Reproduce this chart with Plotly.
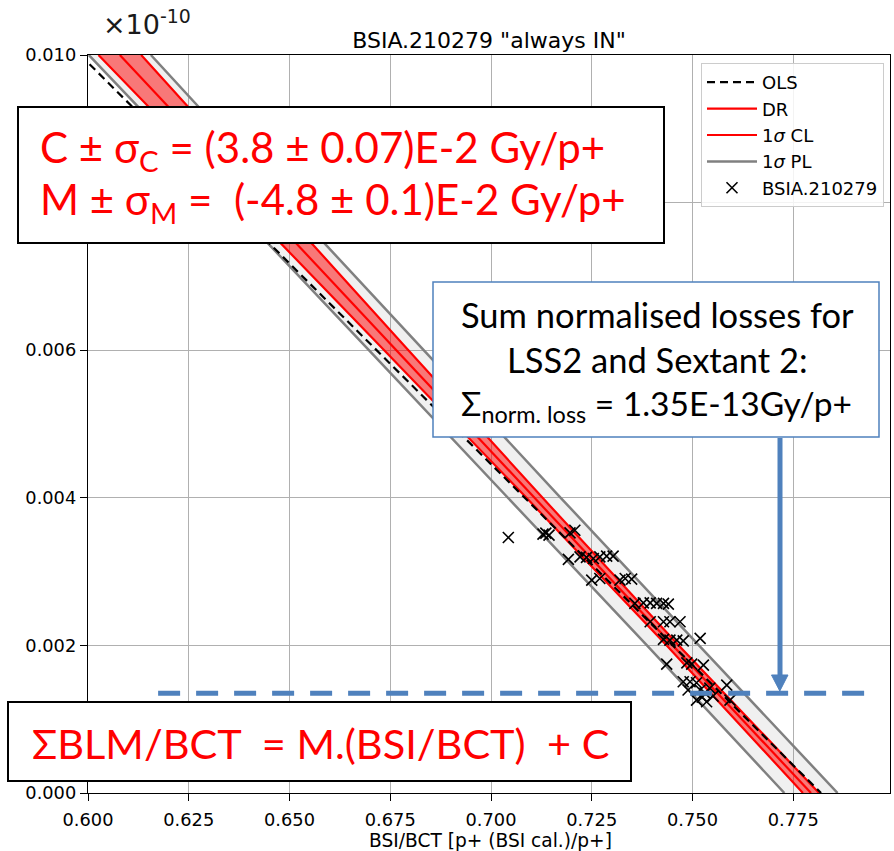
import plotly.graph_objects as go

# ---------------- data ----------------
BAND_Y = [0.010, 0.008, 0.006, 0.004, 0.002, 0.000]
DR_X = [0.6079, 0.6422, 0.6765, 0.7108, 0.7451, 0.7794]
CL_LOWER_X = [0.6026, 0.6381, 0.6735, 0.7088, 0.7436, 0.7774]
CL_UPPER_X = [0.6132, 0.6463, 0.6795, 0.7128, 0.7466, 0.7814]
PL_LOWER_X = [0.6002, 0.6351, 0.6697, 0.7043, 0.7387, 0.7728]
PL_UPPER_X = [0.6156, 0.6493, 0.6833, 0.7173, 0.7516, 0.7860]

OLS_X = [0.5981, 0.7819]
OLS_Y = [0.010, 0.000]

PTS_X = [0.7043, 0.7129, 0.7136, 0.7144, 0.7196, 0.7208, 0.7192, 0.7221, 0.7237,
         0.7254, 0.7270, 0.7287, 0.7303, 0.7250, 0.7270, 0.7320, 0.7333, 0.7349,
         0.7357, 0.7378, 0.7395, 0.7411, 0.7428, 0.7440, 0.7395, 0.7428, 0.7444,
         0.7469, 0.7428, 0.7444, 0.7461, 0.7477, 0.7519, 0.7436, 0.7486, 0.7498,
         0.7527, 0.7477, 0.7494, 0.7510, 0.7519, 0.7531, 0.7543, 0.7551, 0.7585,
         0.7510, 0.7535, 0.7593, 0.7489, 0.7524]
PTS_Y = [0.003462, 0.003507, 0.003521, 0.003494, 0.003525, 0.003561, 0.003165,
         0.003200, 0.003192, 0.003178, 0.003200, 0.003209, 0.003209, 0.002884,
         0.002907, 0.002884, 0.002907, 0.002898, 0.002569, 0.002577, 0.002577,
         0.002569, 0.002569, 0.002559, 0.002320, 0.002320, 0.002320, 0.002320,
         0.002081, 0.002072, 0.002072, 0.002062, 0.002095, 0.001747, 0.001764,
         0.001747, 0.001733, 0.001507, 0.001507, 0.001494, 0.001395, 0.001354,
         0.001422, 0.001313, 0.001462, 0.001259, 0.001236, 0.001259, 0.001395,
         0.001300]

NORM_LOSS = 0.00135          # 1.35E-13 Gy/p+ in units of 1e-10
NORM_LOSS_X = [0.6174, 0.7958]

X_TICKS = [0.600, 0.625, 0.650, 0.675, 0.700, 0.725, 0.750, 0.775]
X_TICK_TEXT = ["0.600", "0.625", "0.650", "0.675", "0.700", "0.725", "0.750", "0.775"]
Y_TICKS = [0.000, 0.002, 0.004, 0.006, 0.008, 0.010]
Y_TICK_TEXT = ["0.000", "0.002", "0.004", "0.006", "", "0.010"]  # 0.008 hidden under box

TITLE = 'BSIA.210279 "always IN"'
X_TITLE = "BSI/BCT [p+ (BSI cal.)/p+]"

# ---------------- figure ----------------
W, H = 894, 851
ML, MR, MT, MB = 88, 4, 55, 58
PW, PH = W - ML - MR, H - MT - MB


def px(xp):
    return (xp - ML) / PW


def py(yp):
    return (H - MB - yp) / PH


RED = "#ff0000"
GREY = "#808080"
BLUE = "#4f81bd"
F_MPL = "DejaVu Sans"
F_PPT = "Lato"

fig = go.Figure()

# prediction band
fig.add_trace(go.Scatter(x=PL_LOWER_X, y=BAND_Y, mode="lines",
                         line=dict(color=GREY, width=2.5),
                         name="1<i>σ</i> PL", legendgroup="pl", legendrank=4,
                         showlegend=True))
fig.add_trace(go.Scatter(x=PL_UPPER_X, y=BAND_Y, mode="lines", fill="tonextx",
                         fillcolor="rgba(128,128,128,0.12)",
                         line=dict(color=GREY, width=2.5),
                         name="1<i>σ</i> PL", legendgroup="pl", showlegend=False))
# confidence band
fig.add_trace(go.Scatter(x=CL_LOWER_X, y=BAND_Y, mode="lines",
                         line=dict(color=RED, width=2.2),
                         name="1<i>σ</i> CL", legendgroup="cl", legendrank=3,
                         showlegend=True))
fig.add_trace(go.Scatter(x=CL_UPPER_X, y=BAND_Y, mode="lines", fill="tonextx",
                         fillcolor="rgba(255,0,0,0.5)",
                         line=dict(color=RED, width=2.2),
                         name="1<i>σ</i> CL", legendgroup="cl", showlegend=False))
# DR fit
fig.add_trace(go.Scatter(x=DR_X, y=BAND_Y, mode="lines",
                         line=dict(color=RED, width=2.2),
                         name="DR", legendgroup="dr", legendrank=2))
# OLS fit
fig.add_trace(go.Scatter(x=OLS_X, y=OLS_Y, mode="lines",
                         line=dict(color="black", width=2.2, dash="8px,5px"),
                         name="OLS", legendgroup="ols", legendrank=1))
# data points
fig.add_trace(go.Scatter(x=PTS_X, y=PTS_Y, mode="markers",
                         marker=dict(symbol="x-thin", size=11,
                                     line=dict(color="black", width=1.6)),
                         name="BSIA.210279", legendgroup="pts", legendrank=5))

axis_common = dict(showline=True, mirror=True, linecolor="black", linewidth=1.4,
                   showgrid=True, gridcolor="#b0b0b0", gridwidth=1.2,
                   zeroline=False, ticks="outside", ticklen=7, tickwidth=1.4,
                   tickcolor="black",
                   tickfont=dict(family=F_MPL, size=17.8, color="black"))

fig.update_xaxes(range=[0.6, 0.6 + PW / 4030.0], tickvals=X_TICKS, ticktext=X_TICK_TEXT,
                 ticklabelstandoff=3, **axis_common)
fig.update_yaxes(range=[0.0, 0.010], tickvals=Y_TICKS, ticktext=Y_TICK_TEXT,
                 **axis_common)

shapes = []
# horizontal normalised-loss line
shapes.append(dict(type="line", xref="x", yref="y", x0=NORM_LOSS_X[0],
                   x1=NORM_LOSS_X[1], y0=NORM_LOSS, y1=NORM_LOSS, layer="above",
                   line=dict(color=BLUE, width=5, dash="22px,16px")))
# red-text boxes
shapes.append(dict(type="rect", xref="paper", yref="paper", x0=px(18), x1=px(664),
                   y0=py(243), y1=py(107), layer="above", fillcolor="white",
                   line=dict(color="black", width=2)))
shapes.append(dict(type="rect", xref="paper", yref="paper", x0=px(8), x1=px(631),
                   y0=py(781), y1=py(702), layer="above", fillcolor="white",
                   line=dict(color="black", width=2)))
# blue box
shapes.append(dict(type="rect", xref="paper", yref="paper", x0=px(433), x1=px(879),
                   y0=py(437), y1=py(282), layer="above", fillcolor="white",
                   line=dict(color=BLUE, width=1.5)))
# arrow
shapes.append(dict(type="line", xref="paper", yref="paper", x0=px(780), x1=px(780),
                   y0=py(438), y1=py(676), layer="above",
                   line=dict(color=BLUE, width=5)))
shapes.append(dict(type="path", xref="paper", yref="paper", layer="above",
                   path="M %f %f L %f %f L %f %f Z" % (px(771.5), py(675), px(788), py(675),
                                                       px(779.8), py(691)),
                   fillcolor=BLUE, line=dict(color=BLUE, width=1)))

NB = "\u00a0"
annotations = [
    dict(text=X_TITLE, x=px(490), y=py(840), xanchor="center", yanchor="middle",
         font=dict(family=F_MPL, size=18.6, color="black")),
    dict(text="×10<sup>-10</sup>", x=px(101), y=py(23), xanchor="left", yanchor="middle",
         font=dict(family=F_MPL, size=27, color="#1a1a1a")),
    dict(text="C ± σ<sub>C</sub> = (3.8 ± 0.07)E-2 Gy/p+", x=px(38), y=py(150),
         xanchor="left", yanchor="middle", font=dict(family=F_PPT, size=42, color=RED)),
    dict(text="M ± σ<sub>M</sub> =" + NB + NB + "(-4.8 ± 0.1)E-2 Gy/p+", x=px(38), y=py(202),
         xanchor="left", yanchor="middle", font=dict(family=F_PPT, size=42, color=RED)),
    dict(text="ΣBLM/BCT" + NB + NB + "= M.(BSI/BCT)" + NB + NB + "+ C", x=px(30), y=py(743),
         xanchor="left", yanchor="middle", font=dict(family=F_PPT, size=41.5, color=RED)),
    dict(text="Sum normalised losses for", x=px(657), y=py(314), xanchor="center",
         yanchor="middle", font=dict(family=F_PPT, size=34.5, color="black")),
    dict(text="LSS2 and Sextant 2:", x=px(657), y=py(359), xanchor="center",
         yanchor="middle", font=dict(family=F_PPT, size=34.5, color="black")),
    dict(text="Σ<sub>norm. loss</sub> = 1.35E-13Gy/p+", x=px(656), y=py(405),
         xanchor="center", yanchor="middle", font=dict(family=F_PPT, size=33.5, color="black")),
]
for a in annotations:
    a.update(xref="paper", yref="paper", showarrow=False)

fig.update_layout(
    width=W, height=H, margin=dict(l=ML, r=MR, t=MT, b=MB, autoexpand=False),
    paper_bgcolor="white", plot_bgcolor="white",
    title=dict(text=TITLE, x=px(489), xref="paper", xanchor="center",
               y=1 - 40 / H, yref="container", yanchor="middle",
               font=dict(family=F_MPL, size=22, color="black")),
    legend=dict(x=px(884), y=py(63), xanchor="right", yanchor="top",
                bgcolor="rgba(255,255,255,0.85)", bordercolor="#cccccc", borderwidth=1,
                font=dict(family=F_MPL, size=18, color="black"),
                tracegroupgap=6, traceorder="normal", itemwidth=50),
    shapes=shapes, annotations=annotations,
)

fig.write_html("out.html")
